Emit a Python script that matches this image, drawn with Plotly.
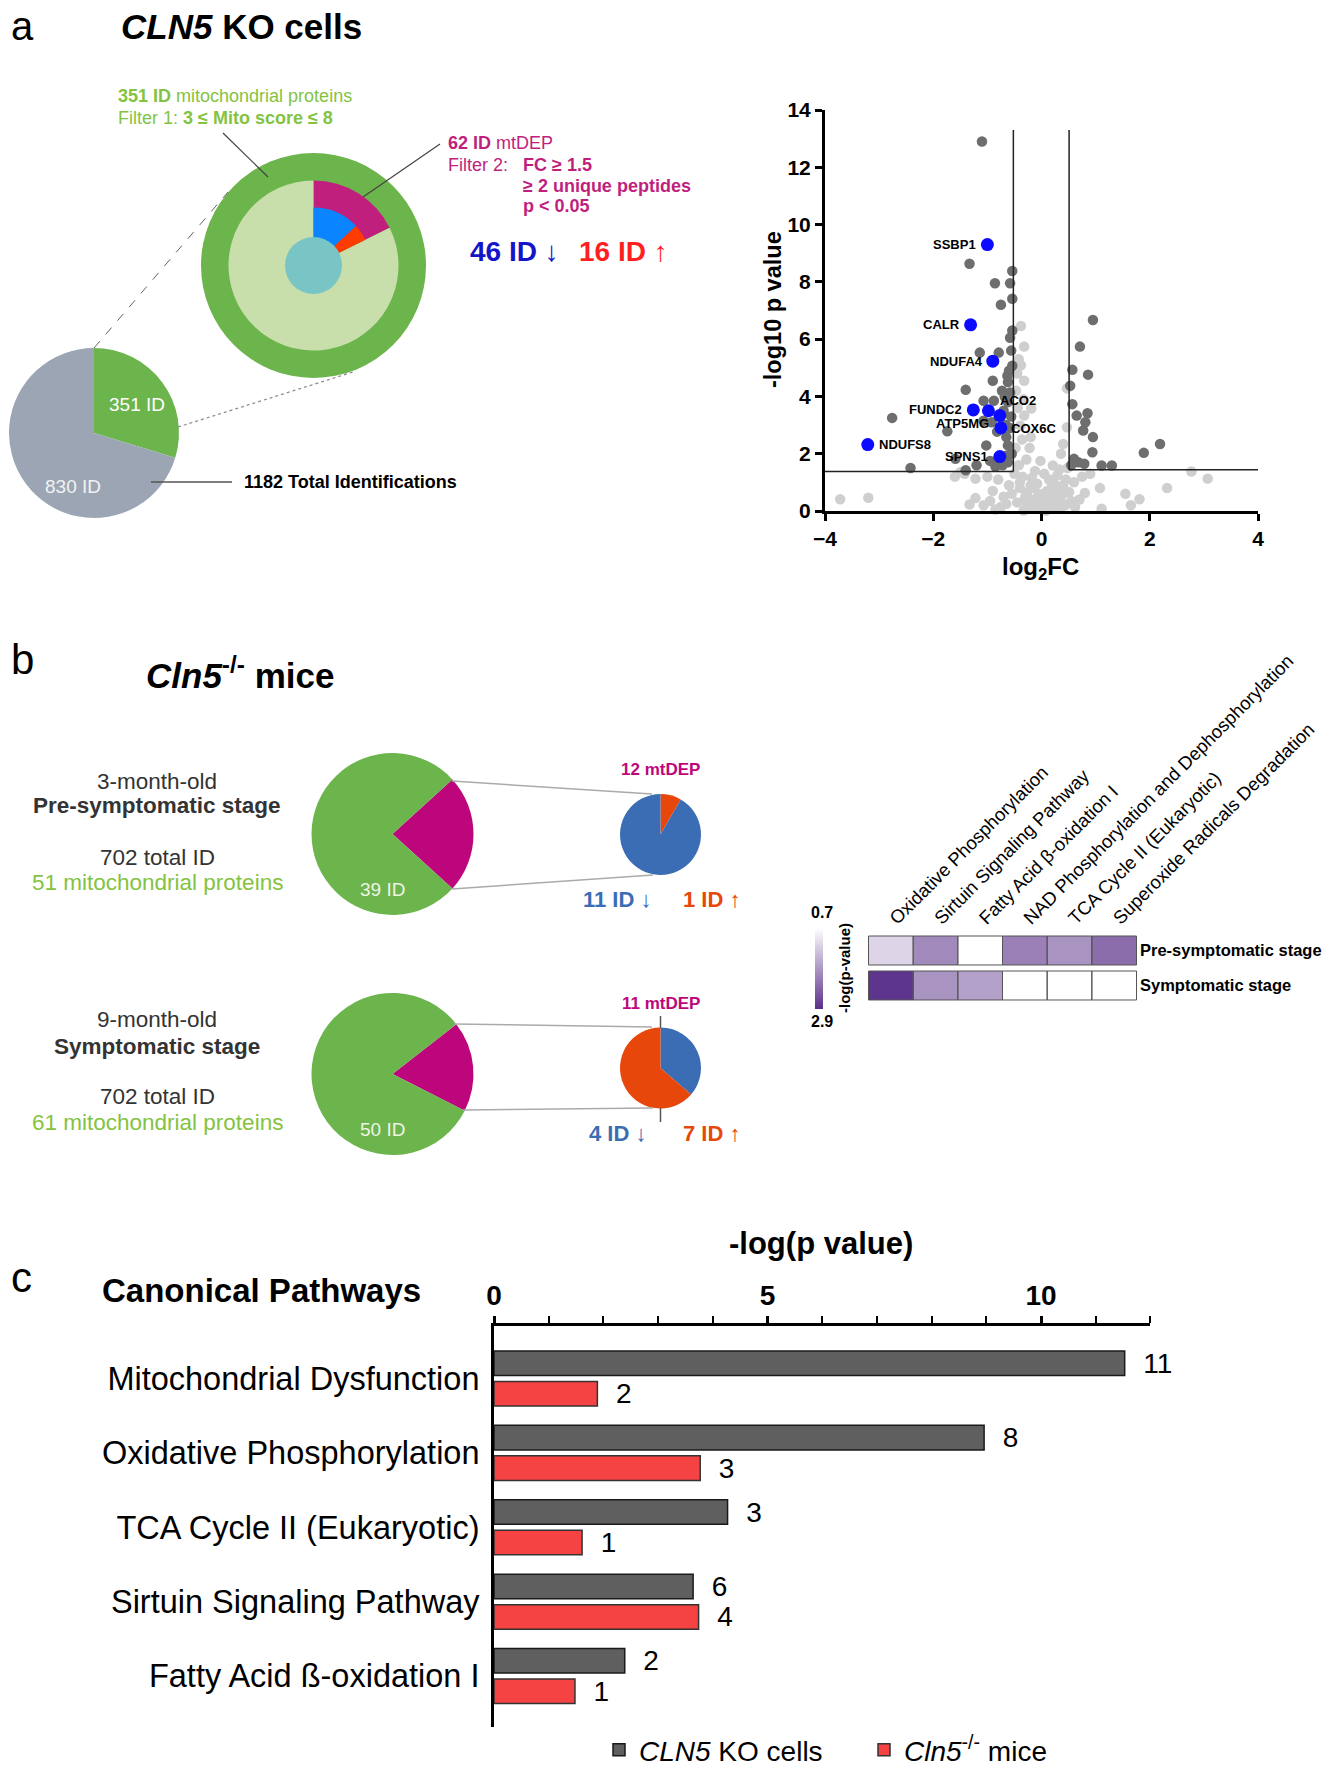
import plotly.graph_objects as go

# page is photographed at 1337x1768; the html body adds an 8px margin before the figure,
# so every position below is given in page pixels and shifted by that offset
PAGE_W, PAGE_H, OFF = 1337, 1768, 8
W, H = PAGE_W - 2 * OFF, 1790
FONT = "Liberation Sans, Arial, Helvetica, sans-serif"

# ------------------------------------------------------------------ data
# panel a : CLN5 KO cells
total_identifications = 1182
mito_ids = 351
non_mito_ids = 830
mtdep_ids = 62
mtdep_down = 46
mtdep_up = 16

# volcano plot (log2FC, -log10 p)
sig_down_x = [-1.10, -1.33, -0.54, -0.86, -0.58, -0.54, -0.75, -0.54, -0.58, -1.14, -0.79, -0.56,
              -0.54, -0.63, -0.90, -0.62, -1.40, -0.73, -0.58, -1.07, -0.88, -0.62, -2.76, -1.74,
              -1.07, -0.92, -0.82, -0.65, -0.62, -1.02, -2.42, -1.40, -1.59, -0.64, -0.62, -0.70,
              -0.66, -0.55, -0.60, -0.68, -0.56, -0.72, -0.85, -0.95, -1.20, -0.58]
sig_down_y = [12.90, 8.63, 8.38, 7.95, 7.95, 7.41, 7.20, 6.30, 6.05, 5.53, 5.53, 5.60,
              5.07, 4.72, 4.55, 4.50, 4.23, 4.20, 4.14, 3.85, 3.85, 3.80, 3.25, 2.78,
              3.15, 3.10, 2.77, 2.58, 2.29, 2.29, 1.50, 1.42, 1.82, 1.94, 1.70, 3.50,
              3.00, 2.00, 4.90, 4.00, 3.30, 1.60, 1.55, 1.75, 1.60, 2.90]
sig_up_x = [0.95, 0.71, 0.57, 0.86, 0.53, 0.57, 0.65, 0.85, 0.81, 0.77, 0.95, 0.94, 0.60, 0.79,
            1.11, 1.30, 1.89, 2.19, 0.55, 0.68]
sig_up_y = [6.67, 5.74, 4.93, 4.76, 4.37, 3.73, 3.33, 3.41, 3.10, 2.81, 2.58, 2.05, 1.82, 1.65,
            1.59, 1.59, 2.03, 2.34, 1.60, 1.70]
ns_x = [-3.72, -3.20, -1.33, -1.07, -1.22, -1.22, -1.42, -0.38, -0.32, -0.38, -0.32, -0.33, -0.19,
        -0.32, -0.39, -0.20, 0.47, 0.47, 0.40, 0.36, 0.21, 0.29, 0.51, 0.80, 1.08, 1.11, 0.62,
        1.55, 1.65, 1.81, 2.32, 2.77, 3.07, -0.45, -0.40, -0.35, -0.30, -0.25, -0.20, -0.15,
        -0.10, -0.05, 0.00, 0.05, 0.10, 0.15, 0.20, 0.25, 0.30, 0.35, 0.40, 0.45, -0.42, -0.28,
        -0.12, 0.05, 0.18, -0.48, -0.36, -0.22, -0.44, -0.47, -0.42, -0.45, -0.08, 0.12, 0.28,
        -0.60, -0.70, -0.80, -0.90, -1.00, -0.65, -0.55, -0.75, -1.50, -1.60, -0.95, 0.60, 0.70,
        0.90, 0.55, 0.75, -0.02, 0.33, -0.18, 0.08, -0.33, 0.22, -0.50, 0.48, -0.85, 0.40,
        -0.27, 0.14, -0.06, 0.26, -0.40, 0.02, 0.37, -0.14, 0.44, -0.31]
ns_y = [0.41, 0.46, 0.23, 0.20, 0.45, 1.13, 1.30, 6.46, 5.74, 5.09, 4.55, 3.90, 3.58,
        3.33, 2.98, 2.58, 4.28, 2.92, 2.34, 2.00, 1.59, 1.24, 0.66, 0.63, 0.80, 0.08, 0.14,
        0.60, 0.20, 0.41, 0.80, 1.38, 1.13, 0.30, 0.80, 1.20, 0.50, 0.15, 0.90, 0.40,
        0.10, 0.60, 0.25, 0.05, 0.70, 0.35, 0.15, 0.90, 0.45, 0.10, 0.60, 1.10, 1.60, 1.80,
        1.40, 1.30, 1.00, 2.20, 2.50, 2.20, 3.60, 4.20, 5.30, 4.80, 0.95, 0.50, 0.20,
        0.90, 0.50, 1.10, 0.70, 1.20, 0.25, 0.60, 0.15, 1.35, 1.20, 0.35, 1.00, 0.40,
        1.30, 0.35, 1.20, 1.75, 1.45, 1.15, 0.02, 0.02, 0.55, 1.30, 1.50, 0.05, 0.90,
        0.65, 1.10, 0.35, 0.75, 1.00, 0.50, 0.30, 0.80, 0.20, 0.35]
hl_genes = ["SSBP1", "CALR", "NDUFA4", "FUNDC2", "ACO2", "ATP5MG", "COX6C", "NDUFS8", "SPNS1"]
hl_x = [-1.00, -1.31, -0.90, -1.26, -0.98, -0.77, -0.75, -3.21, -0.77]
hl_y = [9.30, 6.50, 5.23, 3.53, 3.50, 3.33, 2.90, 2.32, 1.90]
fc_cut_left, fc_cut_right = -0.52, 0.51
p_cut_left, p_cut_right = 1.38, 1.44
cut_top = 13.3

# panel b : Cln5-/- mice
mice_total_ids = 702
mice_ages = ["3-month-old", "9-month-old"]
mice_stages = ["Pre-symptomatic stage", "Symptomatic stage"]
mice_mito = [51, 61]
mice_mtdep = [12, 11]
mice_mito_rest = [39, 50]
mice_down = [11, 4]
mice_up = [1, 7]

heat_pathways = ["Oxidative Phosphorylation", "Sirtuin Signaling Pathway", "Fatty Acid β-oxidation I",
                 "NAD Phosphorylation and Dephosphorylation", "TCA Cycle II (Eukaryotic)",
                 "Superoxide Radicals Degradation"]
heat_pre = [1.15, 1.95, None, 2.05, 1.85, 2.25]
heat_sym = [2.85, 1.85, 1.70, None, None, None]
heat_min, heat_max = 0.7, 2.9

# panel c : canonical pathways
pathways = ["Mitochondrial Dysfunction", "Oxidative Phosphorylation", "TCA Cycle II (Eukaryotic)",
            "Sirtuin Signaling Pathway", "Fatty Acid ß-oxidation I"]
cells_logp = [11.53, 8.96, 4.27, 3.64, 2.39]
mice_logp = [1.89, 3.77, 1.61, 3.74, 1.48]
cells_counts = [11, 8, 3, 6, 2]
mice_counts = [2, 3, 1, 4, 1]

# ------------------------------------------------------------------ helpers (page px -> paper)
def X(p):
    return (p - OFF) / W


def Y(p):
    return 1 - (p - OFF) / H


def dom(cx, cy, r):
    return dict(x=[X(cx - r), X(cx + r)], y=[Y(cy + r), Y(cy - r)])


GREEN = "#6cb44c"
LIGHTGREEN = "#c8dfab"
GREY = "#9ba5b4"
MAGENTA_A = "#c01f7e"
MAGENTA_B = "#bd067c"
BLUE_A = "#0a84ff"
RED_A = "#ff3c00"
TEAL = "#79c5c6"
BLUE_B = "#3b6db4"
ORANGE_B = "#e8470b"
TXT_GREEN = "#84c341"
PURPLE = "#5a3089"

fig = go.Figure()
annos = []
shapes = []


def text(x, y, t, size, color="black", xa="center", ya="middle", angle=0):
    annos.append(dict(x=X(x), y=Y(y), xref="paper", yref="paper", text=t, showarrow=False,
                      xanchor=xa, yanchor=ya, textangle=angle,
                      font=dict(size=size, color=color, family=FONT)))


def line(x0, y0, x1, y1, color="#444", width=1.2, dash="solid"):
    shapes.append(dict(type="line", xref="paper", yref="paper", x0=X(x0), y0=Y(y0), x1=X(x1), y1=Y(y1),
                       line=dict(color=color, width=width, dash=dash), layer="above"))


pie_common = dict(sort=False, direction="clockwise", textinfo="none", hoverinfo="skip",
                  showlegend=False, marker_line_width=0)

# ---------------- panel a pies
fig.add_trace(go.Pie(values=[mito_ids, non_mito_ids], labels=["mito", "other"],
                     marker_colors=[GREEN, GREY], domain=dom(94, 433, 85), rotation=0, **pie_common))
fig.add_trace(go.Pie(values=[mito_ids], labels=["mito ring"], marker_colors=[GREEN],
                     domain=dom(313.5, 265.5, 112.5), rotation=0, **pie_common))
fig.add_trace(go.Pie(values=[mtdep_ids, mito_ids - mtdep_ids], labels=["mtDEP", "mito rest"],
                     marker_colors=[MAGENTA_A, LIGHTGREEN], domain=dom(313.5, 265.5, 85), rotation=0,
                     **pie_common))
fig.add_trace(go.Pie(values=[mtdep_down, mtdep_up, mito_ids - mtdep_ids], labels=["down", "up", "rest"],
                     marker_colors=[BLUE_A, RED_A, "rgba(0,0,0,0)"], domain=dom(313.5, 265.5, 58),
                     rotation=0, **pie_common))
shapes.append(dict(type="circle", xref="paper", yref="paper", x0=X(285), x1=X(342), y0=Y(294), y1=Y(237),
                   fillcolor=TEAL, line=dict(width=0), layer="above"))

text(9, 26, "a", 40, xa="left")
text(241, 27, "<b><i>CLN5</i> KO cells</b>", 35)
text(116, 96, f"<b>{mito_ids} ID</b> mitochondrial proteins", 18, TXT_GREEN, xa="left")
text(116, 118, "Filter 1: <b>3 ≤ Mito score ≤ 8</b>", 18, TXT_GREEN, xa="left")
text(446, 143, f"<b>{mtdep_ids} ID</b> mtDEP", 18, MAGENTA_A, xa="left")
text(446, 165, "Filter 2:", 18, MAGENTA_A, xa="left")
text(521, 165, "<b>FC ≥ 1.5</b>", 18, MAGENTA_A, xa="left")
text(521, 186, "<b>≥ 2 unique peptides</b>", 18, MAGENTA_A, xa="left")
text(521, 206, "<b>p &lt; 0.05</b>", 18, MAGENTA_A, xa="left")
text(468, 252, f"<b>{mtdep_down} ID</b> ↓", 28, "#1414c8", xa="left")
text(577, 252, f"<b>{mtdep_up} ID</b> ↑", 28, "#ff1f1f", xa="left")
text(137, 404, f"{mito_ids} ID", 19, "white")
text(73, 486, f"{non_mito_ids} ID", 19, "#f2f2f2")
text(242, 482, f"<b>{total_identifications} Total Identifications</b>", 18, xa="left")
line(223, 133, 268, 177)
line(440, 144, 363, 197)
line(94, 348, 228, 192, color="#666", width=1, dash="dash")
line(178, 427, 353, 372, color="#888", width=1.2, dash="dot")
line(151, 482, 232, 482, color="#555", width=1.5)

# ---------------- volcano
fig.add_trace(go.Scatter(x=ns_x, y=ns_y, mode="markers", marker=dict(size=10.5, color="#cfcfcf"),
                         xaxis="x", yaxis="y", hoverinfo="skip", showlegend=False, cliponaxis=False))
fig.add_trace(go.Scatter(x=sig_down_x + sig_up_x, y=sig_down_y + sig_up_y, mode="markers",
                         marker=dict(size=10.5, color="#6e6e6e"), xaxis="x", yaxis="y",
                         hoverinfo="skip", showlegend=False, cliponaxis=False))
fig.add_trace(go.Scatter(x=hl_x, y=hl_y, mode="markers", marker=dict(size=13, color="#0b0bff"),
                         xaxis="x", yaxis="y", hoverinfo="skip", showlegend=False, cliponaxis=False))
label_pos = {"SSBP1": ("right", -9, 0), "CALR": ("right", -9, 0), "NDUFA4": ("right", -8, 0),
             "FUNDC2": ("right", -9, 0), "ACO2": ("left", 10, 10), "ATP5MG": ("right", -9, -8),
             "COX6C": ("left", 8, -1), "NDUFS8": ("left", 9, 0), "SPNS1": ("right", -10, 0)}
for g, gx, gy in zip(hl_genes, hl_x, hl_y):
    xa, xs, ys = label_pos[g]
    annos.append(dict(x=gx, y=gy, xref="x", yref="y", text=g, showarrow=False, xanchor=xa,
                      yanchor="middle", xshift=xs, yshift=ys,
                      font=dict(size=13, color="black", family=FONT, weight="bold")))
for x0, y0, x1, y1 in [(fc_cut_left, p_cut_left, fc_cut_left, cut_top),
                       (fc_cut_right, p_cut_right, fc_cut_right, cut_top),
                       (-4, p_cut_left, fc_cut_left, p_cut_left),
                       (fc_cut_right, p_cut_right, 4.02, p_cut_right)]:
    shapes.append(dict(type="line", xref="x", yref="y", x0=x0, y0=y0, x1=x1, y1=y1,
                       line=dict(color="#222", width=1.5), layer="above"))
text(773, 310, "<b>-log10 p value</b>", 23.5, angle=-90)
text(1040, 568, "<b>log<sub>2</sub>FC</b>", 24)

# ---------------- panel b
text(9, 660, "b", 42, xa="left")
text(240, 673, "<b><i>Cln5</i><sup>-/-</sup> mice</b>", 35)
block_y = [(781, 806, 857, 882), (1020, 1046, 1096, 1122)]
big_c = [(392.5, 834), (392.5, 1074)]
small_c = [(660.5, 834.5), (660.5, 1068)]
big_rot = [47.6, 52.0]
for i in range(2):
    y1, y2, y3, y4 = block_y[i]
    text(157, y1, mice_ages[i], 22.5, "#333")
    text(157, y2, f"<b>{mice_stages[i]}</b>", 22.5, "#333")
    text(157, y3, f"{mice_total_ids} total ID", 22.5, "#333")
    text(157, y4, f"{mice_mito[i]} mitochondrial proteins", 22.5, TXT_GREEN)
    bx, by = big_c[i]
    fig.add_trace(go.Pie(values=[mice_mtdep[i], mice_mito_rest[i]], labels=["mtDEP", "rest"],
                         marker_colors=[MAGENTA_B, GREEN], domain=dom(bx, by, 81), rotation=big_rot[i],
                         **pie_common))
    text(bx - 10, by + 55, f"{mice_mito_rest[i]} ID", 19, "#eef5e6")
    sx, sy = small_c[i]
    if i == 0:
        vals, cols = [mice_up[i], mice_down[i]], [ORANGE_B, BLUE_B]
    else:
        vals, cols = [mice_down[i], mice_up[i]], [BLUE_B, ORANGE_B]
    fig.add_trace(go.Pie(values=vals, labels=["a", "b"], marker_colors=cols, domain=dom(sx, sy, 40.5),
                         rotation=0, **pie_common))
    text(sx, sy - 65, f"<b>{mice_mtdep[i]} mtDEP</b>", 17, MAGENTA_B)
    text(617, sy + 65, f"<b>{mice_down[i]} ID</b> ↓", 22, BLUE_B)
    text(711, sy + 65, f"<b>{mice_up[i]} ID</b> ↑", 22, ORANGE_B)
line(452, 781, 652, 794, color="#aaa", width=1.5)
line(452, 889, 653, 875, color="#aaa", width=1.5)
line(454, 1024, 652, 1027, color="#aaa", width=1.5)
line(463, 1110, 653, 1108, color="#aaa", width=1.5)
line(660.5, 1016, 660.5, 1028, color="#555", width=1.5)
line(660.5, 1108, 660.5, 1122, color="#555", width=1.5)

# heatmap
heat_z = [[-v if v is not None else None for v in row] for row in (heat_pre, heat_sym)]
fig.add_trace(go.Heatmap(z=heat_z, x=heat_pathways, y=mice_stages, xaxis="x2", yaxis="y2",
                         colorscale=[[0, PURPLE], [1, "#ffffff"]], zmin=-heat_max, zmax=-heat_min,
                         ygap=6, hoverinfo="skip",
                         colorbar=dict(x=X(815), xanchor="left", y=Y(968.5), yanchor="middle",
                                       len=81 / H, lenmode="fraction", thickness=8, outlinewidth=0,
                                       showticklabels=False, ticks="", xpad=0, ypad=0)))
for j in range(len(mice_stages)):
    for i in range(len(heat_pathways)):
        shapes.append(dict(type="rect", xref="x2", yref="y2", x0=i - 0.5, x1=i + 0.5,
                           y0=j - 0.5 + 0.086, y1=j + 0.5 - 0.086,
                           line=dict(color="#555", width=1), fillcolor="rgba(0,0,0,0)", layer="above"))
text(822, 912, f"<b>{heat_min}</b>", 16)
text(822, 1021, f"<b>{heat_max}</b>", 16)
text(844, 968, "<b>-log(p-value)</b>", 15, angle=-90)

# ---------------- panel c
text(9, 1277, "c", 42, xa="left")
text(261, 1290, "<b>Canonical Pathways</b>", 33)
text(821, 1243, "<b>-log(p value)</b>", 31)
fig.add_trace(go.Bar(y=pathways, x=cells_logp, orientation="h", name="<i>CLN5</i> KO cells",
                     marker=dict(color="#5f5f5f", line=dict(color="#1a1a1a", width=1.5)),
                     text=cells_counts, textposition="outside", texttemplate="\u00a0\u00a0%{text}",
                     textfont=dict(size=28, color="black", family=FONT), constraintext="none",
                     cliponaxis=False, xaxis="x3", yaxis="y3", hoverinfo="skip"))
fig.add_trace(go.Bar(y=pathways, x=mice_logp, orientation="h", name="<i>Cln5</i><sup>-/-</sup> mice",
                     marker=dict(color="#f54343", line=dict(color="#333", width=1.5)),
                     text=mice_counts, textposition="outside", texttemplate="\u00a0\u00a0%{text}",
                     textfont=dict(size=28, color="black", family=FONT), constraintext="none",
                     cliponaxis=False, xaxis="x3", yaxis="y3", hoverinfo="skip"))

axis_bold = dict(showline=True, linewidth=3, linecolor="black", ticks="outside", tickcolor="black",
                 showgrid=False, zeroline=False, fixedrange=True, automargin=False)

fig.update_layout(
    template="none",
    width=W, height=H, margin=dict(l=0, r=0, t=0, b=0, autoexpand=False),
    paper_bgcolor="white", plot_bgcolor="white",
    font=dict(family=FONT, color="black"),
    barmode="group", bargap=0.18, bargroupgap=0.195,
    xaxis=dict(domain=[X(825), X(1258)], range=[-4, 4], anchor="y", tickvals=[-4, -2, 0, 2, 4],
               ticklen=7, tickwidth=2.5, tickfont=dict(size=21, weight="bold"), **axis_bold),
    yaxis=dict(domain=[Y(511), Y(110)], range=[0, 14], anchor="x", dtick=2, tick0=0,
               ticklen=7, tickwidth=2.5, tickfont=dict(size=21, weight="bold"), **axis_bold),
    xaxis2=dict(domain=[X(868), X(1137)], anchor="y2", side="top", tickangle=-45, ticks="",
                showgrid=False, showline=False, zeroline=False, tickfont=dict(size=18.5, color="black"),
                fixedrange=True, automargin=False),
    yaxis2=dict(domain=[Y(1003), Y(933)], anchor="x2", side="right", autorange="reversed", ticks="",
                showgrid=False, showline=False, zeroline=False, tickfont=dict(size=16.5, weight="bold"),
                ticklabelstandoff=2, fixedrange=True, automargin=False),
    xaxis3=dict(domain=[X(494), X(494 + 12 * 54.7)], range=[0, 12], anchor="y3", side="top",
                tick0=0, dtick=5, ticklen=7, tickwidth=2.5, tickfont=dict(size=28, weight="bold"),
                minor=dict(dtick=1, ticks="outside", ticklen=7, tickwidth=2, tickcolor="black"),
                **axis_bold),
    yaxis3=dict(domain=[Y(1727), Y(1326)], anchor="x3", type="category", range=[4.685, -0.706],
                showline=True, linewidth=3, linecolor="black", ticks="", showgrid=False, zeroline=False,
                tickfont=dict(size=32.5), ticklabelstandoff=5, fixedrange=True, automargin=False),
    legend=dict(orientation="h", x=X(599), y=Y(1750), xanchor="left", yanchor="middle",
                font=dict(size=28), bgcolor="rgba(0,0,0,0)", traceorder="normal", borderwidth=0,
                entrywidth=220, entrywidthmode="pixels"),
    annotations=annos, shapes=shapes,
)

fig.write_html("out.html")
